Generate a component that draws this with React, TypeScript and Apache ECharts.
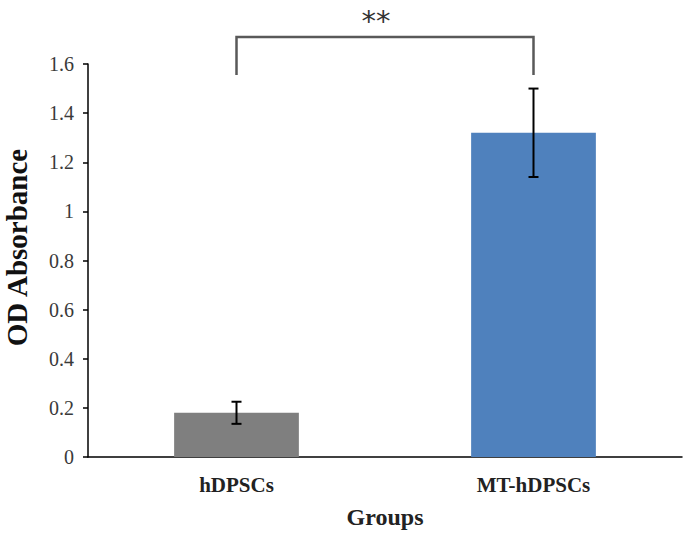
import React, { useEffect, useRef } from "react";
import * as echarts from "echarts";

const categories = ["hDPSCs", "MT-hDPSCs"];
const means = [0.18, 1.32];
const errors = [0.045, 0.18];
const barColors = ["#7f7f7f", "#4f81bd"];
const yTicks = { min: 0, max: 1.6, interval: 0.2 };
const bracket = { from: 0, to: 1, low: 1.555, high: 1.71, label: "**", labelY: 1.775 };

export default function App() {
  const ref = useRef<HTMLDivElement>(null);
  useEffect(() => {
    if (!ref.current) return;
    const chart = echarts.init(ref.current, undefined, { renderer: "svg" });
    const font = "'Liberation Serif', 'Times New Roman', serif";
    chart.setOption({
      animation: false,
      backgroundColor: "#ffffff",
      grid: { left: 88, right: 6, top: 64, bottom: 78, containLabel: false, outerBoundsMode: "none" },
      xAxis: {
        type: "category",
        data: categories,
        axisLine: { lineStyle: { color: "#000", width: 1.5 } },
        axisTick: { show: false },
        axisLabel: { fontFamily: font, fontWeight: "bold", fontSize: 21, color: "#222", margin: 17 },
        name: "Groups",
        nameLocation: "middle",
        nameGap: 48,
        nameTextStyle: { fontFamily: font, fontWeight: "bold", fontSize: 24, color: "#222" },
      },
      yAxis: {
        type: "value",
        min: yTicks.min,
        max: yTicks.max,
        interval: yTicks.interval,
        splitLine: { show: false },
        axisLine: { show: true, lineStyle: { color: "#000", width: 1.5 } },
        axisTick: { show: true, length: 5, lineStyle: { color: "#000", width: 1.5 } },
        axisLabel: { fontFamily: font, fontSize: 20, color: "#3a3a3a", margin: 14 },
        name: "OD Absorbance",
        nameLocation: "middle",
        nameGap: 57,
        nameTextStyle: { fontFamily: font, fontWeight: "bold", fontSize: 29, color: "#111", padding: [0, 0, 0, 26] },
      },
      series: [
        {
          type: "bar",
          barWidth: "42%",
          data: means.map((v, i) => ({ value: v, itemStyle: { color: barColors[i] } })),
        },
        {
          type: "custom",
          data: means.map((m, i) => [i, m - errors[i], m + errors[i]]),
          renderItem: (params: any, api: any) => {
            const x = api.value(0);
            const lo = api.coord([x, api.value(1)]);
            const hi = api.coord([x, api.value(2)]);
            const hw = 5;
            const style = { stroke: "#000", lineWidth: 2 };
            return {
              type: "group",
              children: [
                { type: "line", shape: { x1: lo[0], y1: lo[1], x2: hi[0], y2: hi[1] }, style },
                { type: "line", shape: { x1: lo[0] - hw, y1: lo[1], x2: lo[0] + hw, y2: lo[1] }, style },
                { type: "line", shape: { x1: hi[0] - hw, y1: hi[1], x2: hi[0] + hw, y2: hi[1] }, style },
              ],
            };
          },
          z: 5,
        },
        {
          type: "custom",
          clip: false,
          data: [[bracket.from, bracket.to, bracket.low, bracket.high, bracket.labelY]],
          renderItem: (params: any, api: any) => {
            const a0 = api.coord([api.value(0), api.value(2)]);
            const a1 = api.coord([api.value(0), api.value(3)]);
            const b1 = api.coord([api.value(1), api.value(3)]);
            const b0 = api.coord([api.value(1), api.value(2)]);
            const t = api.coord([api.value(0), api.value(4)]);
            return {
              type: "group",
              children: [
                {
                  type: "polyline",
                  shape: { points: [a0, a1, b1, b0] },
                  style: { stroke: "#595959", lineWidth: 2.5, fill: "none" },
                },
                {
                  type: "text",
                  x: (a0[0] + b0[0]) / 2 - 9,
                  y: t[1],
                  style: {
                    text: bracket.label,
                    fontFamily: "'DejaVu Sans', sans-serif",
                    fontSize: 29,
                    fill: "#333",
                    align: "center",
                    verticalAlign: "middle",
                  },
                },
              ],
            };
          },
          z: 6,
        },
      ],
    });
    return () => chart.dispose();
  }, []);
  return <div ref={ref} style={{ width: 688, height: 535, position: "absolute", left: 0, top: 0 }} />;
}
